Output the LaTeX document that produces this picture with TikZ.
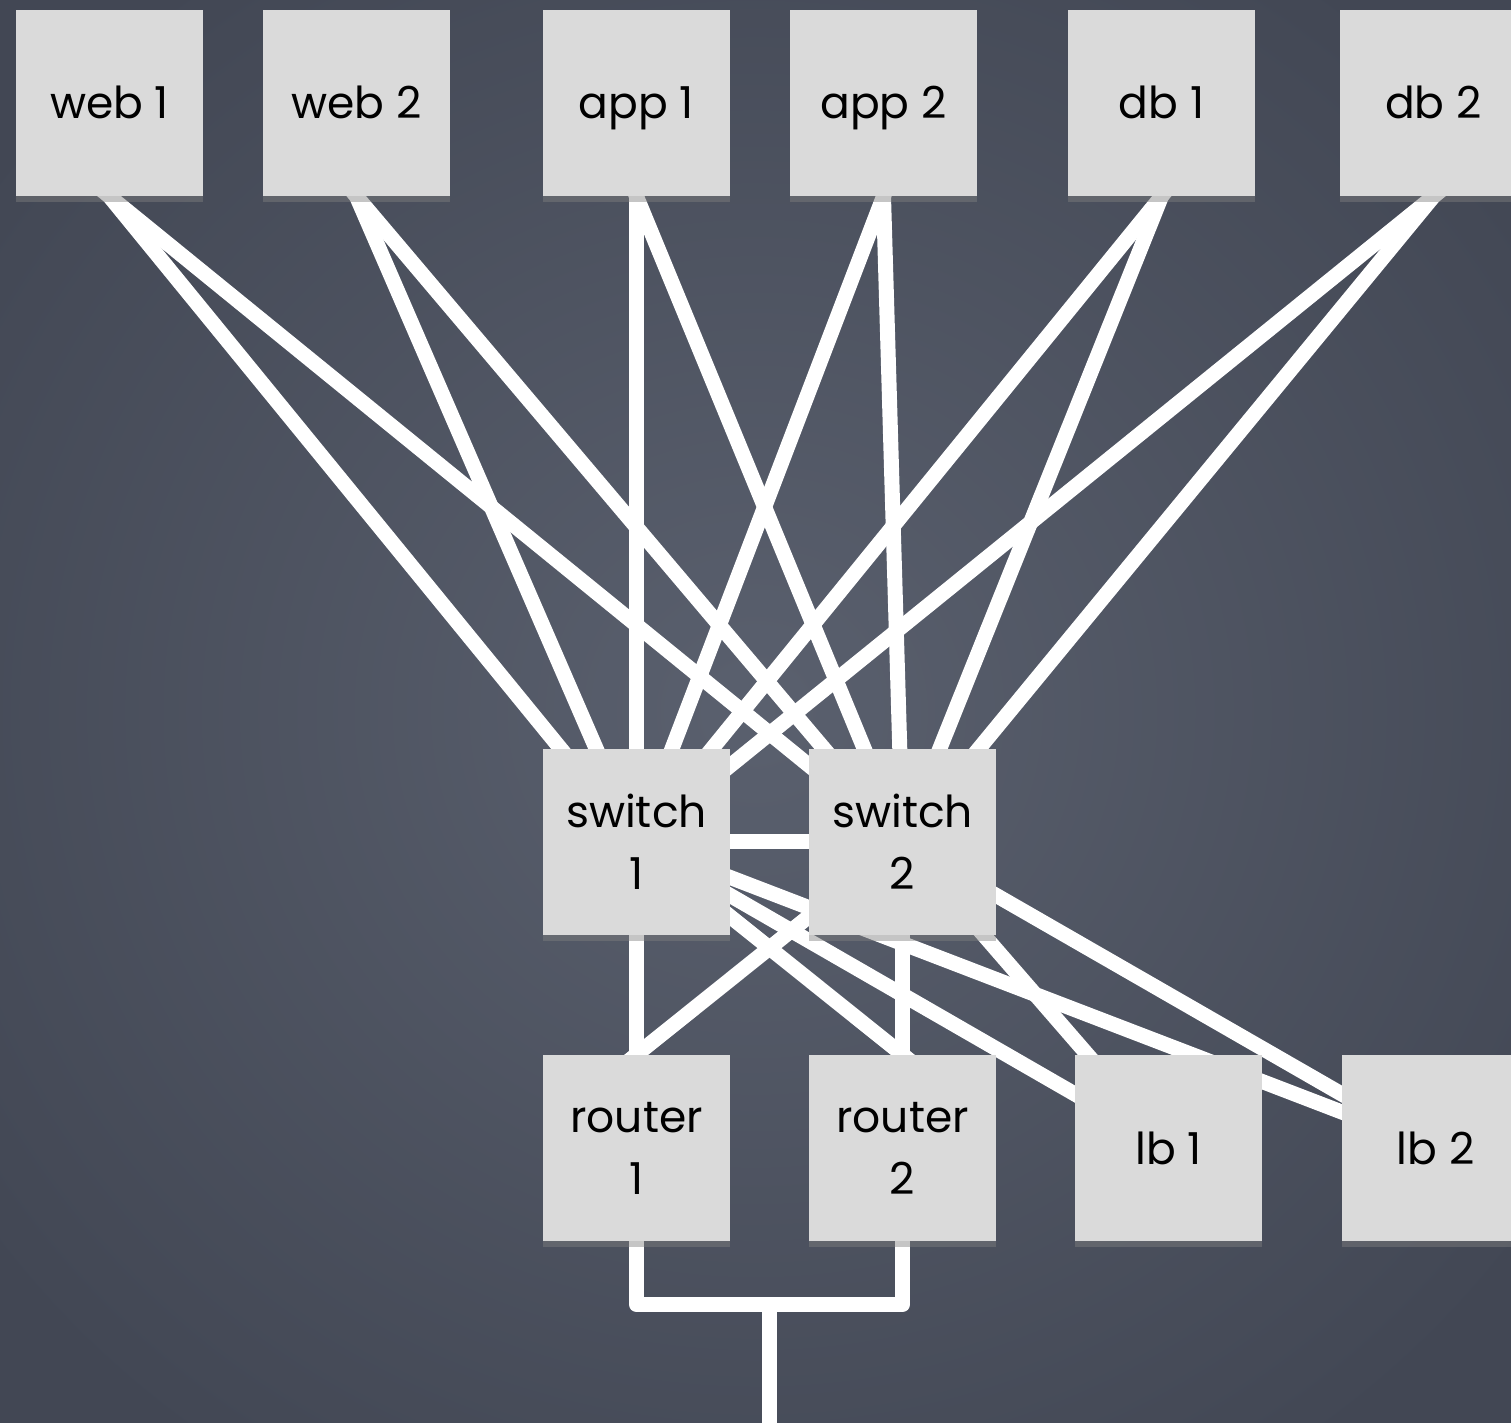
\documentclass[tikz,border=0pt]{standalone}
\usepackage{fontspec}
\setmainfont{Poppins}
\usetikzlibrary{shadows}
\pgfdeclarelayer{bg}
\pgfdeclarelayer{edges}
\pgfsetlayers{bg,edges,main}
\definecolor{slateout}{RGB}{66,71,84}
\definecolor{slatein}{RGB}{90,96,110}
\definecolor{boxgray}{RGB}{218,218,218}
\begin{document}
\begin{tikzpicture}[x=0.5pt,y=-0.5pt,
  box/.style={fill=boxgray, minimum width=93.5pt, minimum height=93pt,
    inner sep=0pt, text=black, align=center,
    font=\fontsize{22}{31}\selectfont,
    drop shadow={shadow xshift=0pt, shadow yshift=-3pt, opacity=0.45}},
  oneline/.style={box, text height=16pt, text depth=0pt},
  wire/.style={draw=white, line width=7.5pt},
]
\useasboundingbox (0,0) rectangle (1511,1423);
\begin{pgfonlayer}{bg}
  \shade[inner color=slatein, outer color=slateout] (-200,-200) rectangle (1711,1623);
\end{pgfonlayer}

% nodes
\node[oneline] (web1) at (109.5,103) {web 1};
\node[oneline] (web2) at (356.5,103) {web 2};
\node[oneline] (app1) at (636.5,103) {app 1};
\node[oneline] (app2) at (883.5,103) {app 2};
\node[oneline] (db1)  at (1161.5,103) {db 1};
\node[oneline] (db2)  at (1433.5,103) {db 2};
\node[box] (sw1) at (636.5,841.5) {switch\\1};
\node[box] (sw2) at (902.5,841.5) {switch\\2};
\node[box] (r1) at (636.5,1148) {router\\1};
\node[box] (r2) at (902.5,1148) {router\\2};
\node[oneline] (lb1) at (1168.5,1148) {lb 1};
\node[oneline] (lb2) at (1435.5,1148) {lb 2};
\coordinate (bus) at (769.5,1304.5);
\coordinate (exit) at (769.5,1450);

\begin{pgfonlayer}{edges}
  \foreach \t in {web1,web2,app1,app2,db1,db2}
    \foreach \s in {sw1,sw2}
      \draw[wire, shorten <=-6pt] (\t.south) -- (\s.center);
  \draw[wire] (sw1.center) -- (sw2.center);
  \draw[wire] (sw1.center) -- (r1.center);
  \draw[wire] (sw2.center) -- (r2.center);
  \draw[wire, shorten >=-6pt] (sw1.center) -- (r2.north);
  \draw[wire, shorten >=-6pt] (sw2.center) -- (r1.north);
  \foreach \s in {sw1,sw2}
    \foreach \l in {lb1,lb2}
      \draw[wire] (\s.center) -- (\l.center);
  \draw[wire, line join=round] (r1.center) |- (bus) -| (r2.center);
  \draw[wire] (bus) -- (exit);
\end{pgfonlayer}
\end{tikzpicture}
\end{document}
